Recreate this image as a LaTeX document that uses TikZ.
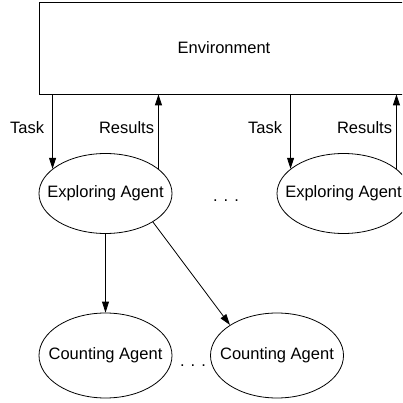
\documentclass[tikz,border=0pt]{standalone}
\usepackage{fontspec}
\setmainfont{Liberation Sans}
\usetikzlibrary{arrows.meta,positioning,shapes.geometric}

\begin{document}
\begin{tikzpicture}[x=1pt,y=-1pt,
  font=\fontsize{16.5}{19}\selectfont,
  line width=0.8pt,
  agent/.style={draw, ellipse, inner xsep=-14pt, inner ysep=0pt, minimum width=133pt, minimum height=80pt},
  flow/.style={-{Triangle[length=11pt,width=7pt]}},
  lbl/.style={inner sep=0pt}]
  \useasboundingbox (0,0) rectangle (402,403);
  \clip (0,0) rectangle (402,403);

  %% Environment box
  \node[draw, rectangle, inner sep=0pt, minimum width=370pt, minimum height=92pt] (env) at (224,48) {Environment};

  %% Exploring agents
  \node[agent] (explore1) at (105.5,193.5) {Exploring Agent};
  \node[agent] (explore2) at (343.5,193.5) {Exploring Agent};
  \node[anchor=base] (dotsA) at (226,201) {. . .};

  %% Counting agents
  \node[agent, minimum height=85pt] (count1) at (105.5,355.5) {Counting Agent};
  \node[agent, minimum height=85pt] (count2) at (277,355.5) {Counting Agent};
  \node[anchor=base] (dotsB) at (193,366) {. . .};

  %% Task / Results arrows
  \draw[flow] (explore1.155 |- env.south) -- node[lbl, pos=0.45, left=8pt] {Task} (explore1.155);
  \draw[flow] (explore1.25) -- node[lbl, pos=0.55, left=4pt] {Results} (explore1.25 |- env.south);
  \draw[flow] (explore2.155 |- env.south) -- node[lbl, pos=0.45, left=8pt] {Task} (explore2.155);
  \draw[flow] (explore2.25) -- node[lbl, pos=0.55, left=4pt] {Results} (explore2.25 |- env.south);

  %% Exploring -> Counting
  \draw[flow] (explore1.south) -- (count1.north);
  \draw[flow] (explore1.-31) -- (count2.147);
\end{tikzpicture}
\end{document}
